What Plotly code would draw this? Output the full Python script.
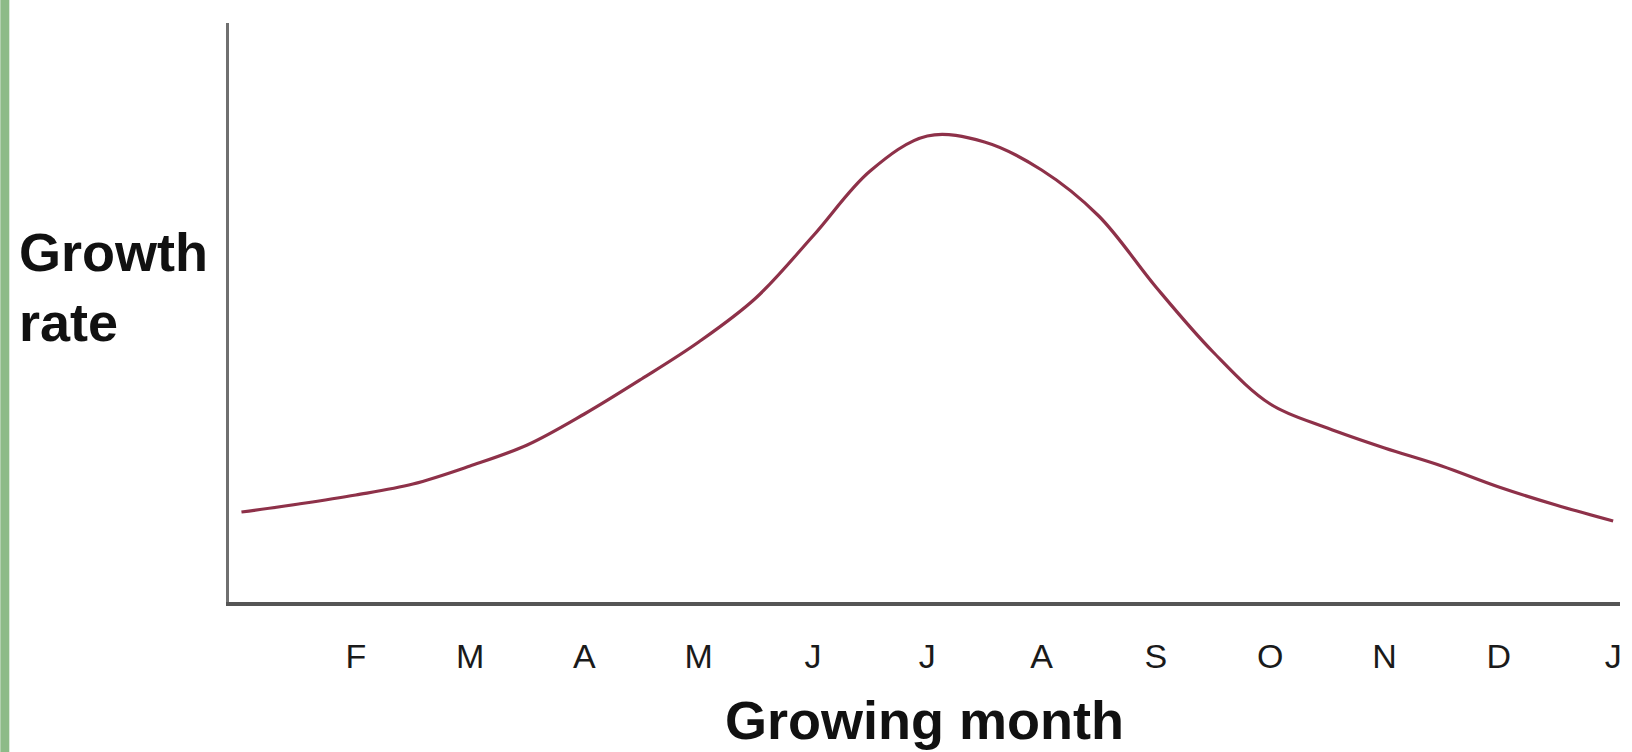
import plotly.graph_objects as go

# ---- data (arbitrary growth-rate units) ----
months = [0, 0.5, 1, 1.5, 2, 2.5, 3, 3.5, 4, 4.5, 5, 5.5, 6, 6.5, 7, 7.5, 8, 8.5, 9, 9.5, 10, 10.5, 11, 11.5, 12]
growth_rate = [90, 98, 107, 118, 136, 157, 188, 223, 260, 304, 366, 431, 466, 460, 432, 386, 315, 250, 198, 174, 154, 136, 115, 97, 81]
tick_months = [1, 2, 3, 4, 5, 6, 7, 8, 9, 10, 11, 12]
tick_labels = ["F", "M", "A", "M", "J", "J", "A", "S", "O", "N", "D", "J"]
x_title = "Growing month"
y_title_lines = ["Growth", "rate"]

# ---- layout geometry (pixels) ----
W, H = 1632, 752
L, R, T, B = 229, 10, 23, 150
PW, PH = W - L - R, H - T - B


def px_x(p):
    return (p - L) / PW


def px_y(p):
    return (H - B - p) / PH


fig = go.Figure(
    go.Scatter(
        x=months,
        y=growth_rate,
        mode="lines",
        line=dict(color="#8e3149", width=3.2, shape="spline", smoothing=1.0),
        hoverinfo="skip",
    )
)

fig.update_layout(
    width=W,
    height=H,
    margin=dict(l=L, r=R, t=T, b=B),
    paper_bgcolor="white",
    plot_bgcolor="white",
    showlegend=False,
    shapes=[
        dict(type="rect", xref="paper", yref="paper",
             x0=px_x(0), x1=px_x(9), y0=px_y(H), y1=px_y(0),
             fillcolor="#8dbb88", line=dict(width=0), layer="below"),
    ],
    annotations=[
        dict(text="<br>".join("<b>" + s + "</b>" for s in y_title_lines),
             xref="paper", yref="paper", x=px_x(17), y=px_y(287),
             xanchor="left", yanchor="middle", align="left", showarrow=False,
             font=dict(family="Liberation Sans, Arial", size=54, color="#111")),
        dict(text="<b>" + x_title + "</b>", xref="paper", yref="paper", x=px_x(925), y=px_y(720),
             xanchor="center", yanchor="middle", showarrow=False,
             font=dict(family="Liberation Sans, Arial", size=54, color="#111")),
    ],
)

fig.update_xaxes(
    range=[-0.109, 12.06],
    tickvals=tick_months,
    ticktext=tick_labels,
    showgrid=False,
    zeroline=False,
    showline=True,
    linecolor="#555",
    linewidth=4,
    ticks="",
    ticklabelstandoff=21,
    tickfont=dict(family="Liberation Sans, Arial", size=34, color="#1a1a1a"),
)
fig.update_yaxes(
    range=[0, 579],
    showticklabels=False,
    showgrid=False,
    zeroline=False,
    showline=True,
    linecolor="#707070",
    linewidth=3,
    ticks="",
)

fig.write_html("out.html", config={"displayModeBar": False},
               post_script="document.body.style.margin='0px';")
